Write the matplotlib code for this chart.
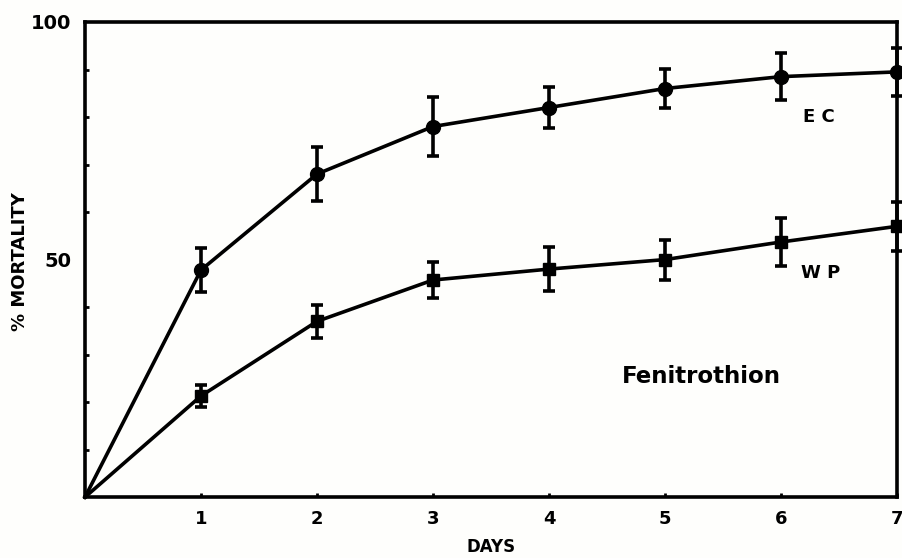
import matplotlib
import matplotlib.pyplot as plt

matplotlib.use("AGG")

days = [0, 1, 2, 3, 4, 5, 6, 7]
ec_mortality = [0, 47.8, 68, 78, 82, 86, 88.5, 89.5]
ec_error = [0, 4.7, 5.7, 6.2, 4.4, 4.2, 5.0, 5.0]
wp_mortality = [0, 21.3, 37, 45.7, 48, 50, 53.7, 57]
wp_error = [0, 2.4, 3.5, 3.8, 4.7, 4.2, 5.0, 5.2]

FONT = "DejaVu Sans"


def draw_series(ax, y_values, errors, marker, size):
    """Ritar en linje med felstaplar."""
    ax.plot(days, y_values, color="black", linewidth=2.6, clip_on=False, zorder=3)
    ax.errorbar(
        days[1:], y_values[1:], yerr=errors[1:], fmt=marker, color="black",
        markersize=size, elinewidth=2.6, capsize=4, capthick=2.6,
        clip_on=False, zorder=4,
    )


fig = plt.figure(figsize=(9.02, 5.58), dpi=100)
fig.patch.set_facecolor("#fefefc")
ax = fig.add_axes([0.0942, 0.109, 0.9003, 0.8516])
ax.set_facecolor("#fefefc")

draw_series(ax, ec_mortality, ec_error, "o", 10)
draw_series(ax, wp_mortality, wp_error, "s", 9)

ax.set_xlim(0, 7)
ax.set_ylim(0, 100)
for side in ax.spines.values():
    side.set_linewidth(2.6)

ax.set_xticks(range(1, 8))
ax.set_xticklabels([str(d) for d in range(1, 8)], fontsize=13,
                   fontweight="bold", family=FONT)
ax.set_yticks([50, 100])
ax.set_yticklabels(["50", "100"], fontsize=14, fontweight="bold", family=FONT)
ax.set_yticks(range(10, 100, 10), minor=True)
ax.tick_params(axis="x", direction="in", length=3, width=2, pad=9)
ax.tick_params(axis="y", which="major", direction="in", length=0, pad=10)
ax.tick_params(axis="y", which="minor", direction="in", length=3, width=2)

fig.text(491 / 902, 1 - 547 / 558, "DAYS", fontsize=12, fontweight="bold",
         family=FONT, ha="center", va="center")
fig.text(20 / 902, 1 - 262 / 558, "% MORTALITY", fontsize=13,
         fontweight="bold", family=FONT, rotation=90, ha="center", va="center")

ax.text(6.19, 79, "E C", fontsize=13, fontweight="bold", family=FONT)
ax.text(6.17, 46.1, "W P", fontsize=13, fontweight="bold", family=FONT)
ax.text(4.63, 24, "Fenitrothion", fontsize=16.5, fontweight="bold", family=FONT)

fig.savefig("out.png", dpi=100, facecolor=fig.get_facecolor())
